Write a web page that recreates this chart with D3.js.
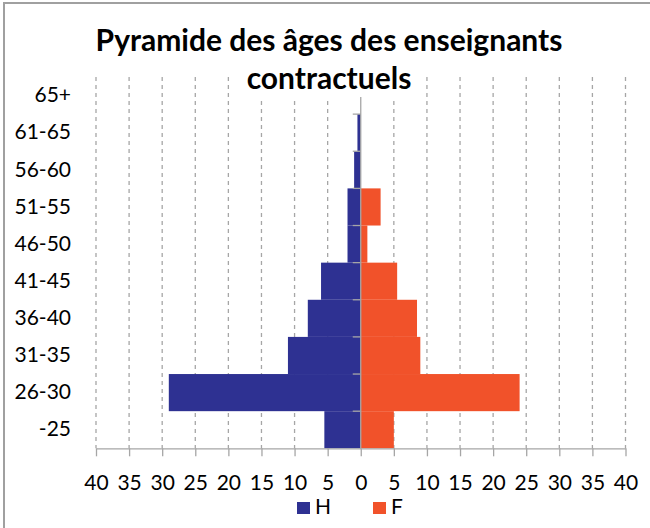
<!DOCTYPE html>
<html>
<head>
<meta charset="utf-8">
<script src="https://cdn.jsdelivr.net/npm/d3@7"></script>
<style>
    body { margin: 0; background: #fff; }
    svg { display: block; font-family: Lato, "Open Sans", sans-serif; }
</style>
</head>
<body>
<div id="chart"></div>
<script>
var categories = ["-25", "26-30", "31-35", "36-40", "41-45", "46-50", "51-55", "56-60", "61-65", "65+"];
var hommes = [5.5, 29, 11, 8, 6, 2, 2, 1, 0.5, 0];
var femmes = [5, 24, 9, 8.5, 5.5, 1, 3, 0, 0, 0];
var xTicks = [-40, -35, -30, -25, -20, -15, -10, -5, 0, 5, 10, 15, 20, 25, 30, 35, 40];
var series = [
    { name: "H", values: hommes, sign: -1, color: "#2E3192" },
    { name: "F", values: femmes, sign: 1, color: "#F1522A" }
];
var titleLines = ["Pyramide des âges des enseignants", "contractuels"];

(function() {
    var width = 650, height = 528;
    var plotLeft = 96, plotRight = 625.5, plotTop = 77, plotBottom = 448.3;
    var gridColor = "#a6a6a6";

    var svg = d3.select("#chart").append("svg")
        .attr("width", width).attr("height", height);

    // outer frame (only left / top visible in the crop)
    svg.append("rect")
        .attr("x", 4).attr("y", 3).attr("width", 700).attr("height", 600)
        .attr("fill", "none").attr("stroke", "#a0a0a0").attr("stroke-width", 2);

    var x = d3.scaleLinear().domain([-40, 40]).range([plotLeft, plotRight]);
    var y = d3.scaleBand().domain(categories.slice().reverse()).range([plotTop, plotBottom]).padding(0);

    // vertical dashed gridlines
    svg.append("g").selectAll("line")
        .data(xTicks.filter(function(d) { return d !== 0; }))
        .enter().append("line")
        .attr("x1", function(d) { return x(d); }).attr("x2", function(d) { return x(d); })
        .attr("y1", plotTop).attr("y2", plotBottom)
        .attr("stroke", gridColor).attr("stroke-width", 1.3)
        .attr("stroke-dasharray", "4,4");

    // bars
    series.forEach(function(s) {
        svg.append("g").selectAll("rect")
            .data(categories.map(function(c, i) { return { cat: c, v: s.values[i] }; }))
            .enter().append("rect")
            .attr("x", function(d) { return s.sign < 0 ? x(-d.v) : x(0); })
            .attr("y", function(d) { return y(d.cat); })
            .attr("width", function(d) { return Math.abs(x(d.v) - x(0)); })
            .attr("height", y.bandwidth())
            .attr("fill", s.color);
    });

    // x axis
    var xAxis = svg.append("g")
        .attr("transform", "translate(0," + plotBottom + ")")
        .call(d3.axisBottom(x).tickValues(xTicks)
            .tickFormat(function(d) { return Math.abs(d); })
            .tickSize(8).tickPadding(19).tickSizeOuter(0));
    xAxis.selectAll("line, path").attr("stroke", gridColor).attr("stroke-width", 1.3);
    xAxis.selectAll("text").attr("font-size", 21).attr("fill", "#000")
        .attr("font-family", "Lato, sans-serif");

    // vertical axis at zero with category boundary ticks
    var yLine = svg.append("g");
    yLine.append("line")
        .attr("x1", x(0)).attr("x2", x(0)).attr("y1", plotTop).attr("y2", plotBottom)
        .attr("stroke", gridColor).attr("stroke-width", 1.3);
    yLine.selectAll("line.tk")
        .data(categories)
        .enter().append("line").attr("class", "tk")
        .attr("x1", x(0) - 8).attr("x2", x(0))
        .attr("y1", function(d) { return y(d); }).attr("y2", function(d) { return y(d); })
        .attr("stroke", gridColor).attr("stroke-width", 1.3);

    // category labels on the left
    var yAxis = svg.append("g")
        .attr("transform", "translate(71,0)")
        .call(d3.axisLeft(y).tickSize(0).tickPadding(0));
    yAxis.select(".domain").remove();
    yAxis.selectAll("text").attr("font-size", 21).attr("fill", "#000")
        .attr("font-family", "Lato, sans-serif");

    // title, with white boxes behind each line
    var titleG = svg.append("g");
    var titleY = [51, 89];
    titleLines.forEach(function(t, i) {
        var box = titleG.append("rect").attr("fill", "#fff");
        var txt = titleG.append("text")
            .attr("x", 329).attr("y", titleY[i])
            .attr("text-anchor", "middle")
            .attr("font-size", 30).attr("font-weight", "bold")
            .attr("fill", "#000")
            .text(t);
        var b = txt.node().getBBox();
        box.attr("x", b.x - 5).attr("y", b.y).attr("width", b.width + 10).attr("height", b.height + 2);
    });

    // legend
    var legend = svg.append("g");
    var legendX = [297, 373];
    series.forEach(function(s, i) {
        legend.append("rect")
            .attr("x", legendX[i]).attr("y", 502).attr("width", 13).attr("height", 12)
            .attr("fill", s.color);
        legend.append("text")
            .attr("x", legendX[i] + 18).attr("y", 514)
            .attr("font-size", 21).attr("fill", "#000")
            .text(s.name);
    });
})();
</script>
</body>
</html>
